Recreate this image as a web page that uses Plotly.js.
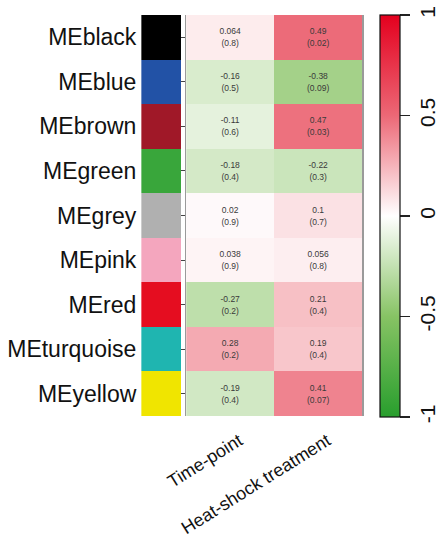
<!DOCTYPE html>
<html>
<head>
<meta charset="utf-8">
<script src="https://cdn.plot.ly/plotly-3.0.1.min.js"></script>
<style>html,body{margin:0;padding:0;background:#fff;}#chart{width:441px;height:543px;}</style>
</head>
<body>
<div id="chart"></div>
<script>
const modules = ["MEblack","MEblue","MEbrown","MEgreen","MEgrey","MEpink","MEred","MEturquoise","MEyellow"];
const moduleColors = ["#000000","#2252A6","#A01828","#39A63B","#B0B0B0","#F4A6BE","#E50D20","#1FB5B0","#F0E500"];
const traits = ["Time-point","Heat-shock treatment"];
const corTime = [0.064,-0.16,-0.11,-0.18,0.02,0.038,-0.27,0.28,-0.19];
const pTime   = ["0.8","0.5","0.6","0.4","0.9","0.9","0.2","0.2","0.4"];
const corHeat = [0.49,-0.38,0.47,-0.22,0.1,0.056,0.21,0.19,0.41];
const pHeat   = ["0.02","0.09","0.03","0.3","0.7","0.8","0.4","0.4","0.07"];
const cbTicks = [-1,-0.5,0,0.5,1];
const cbTickText = ["-1","-0.5","0","0.5","1"];

const z = modules.map((m,i)=>[corTime[i],corHeat[i]]);
const txt = modules.map((m,i)=>[corTime[i]+"<br>("+pTime[i]+")", corHeat[i]+"<br>("+pHeat[i]+")"]);

const W=441,H=543;
const px=v=>v/W, py=v=>(H-v)/H;

const swatch = {
  type:'bar', orientation:'h', y:modules, x:modules.map(()=>1),
  marker:{color:moduleColors, line:{width:0}},
  xaxis:'x2', yaxis:'y', hoverinfo:'skip', showlegend:false
};
const heat = {
  type:'heatmap', x:traits, y:modules, z:z, text:txt,
  texttemplate:'%{text}', textfont:{size:8.5,color:'#3a3a3a',family:'Liberation Sans, Arial, sans-serif'},
  zmin:-1, zmax:1,
  colorscale:[[0,'rgb(40,158,45)'],[0.25,'rgb(135,195,100)'],[0.5,'rgb(255,255,255)'],[0.75,'rgb(236,104,118)'],[1,'rgb(228,0,30)']],
  xaxis:'x', yaxis:'y2',
  colorbar:{thickness:20,thicknessmode:'pixels',len:402,lenmode:'pixels',
    x:px(382),xanchor:'left',y:py(15),yanchor:'top',xpad:0,ypad:0,
    outlinewidth:1.2,outlinecolor:'#111',
    ticks:'outside',ticklen:10,tickwidth:1.5,tickcolor:'#222',
    tickvals:cbTicks,ticktext:cbTickText,tickangle:-90,
    tickfont:{size:21,color:'#111',family:'Liberation Sans, Arial, sans-serif'}}
};

const layout = {
  width:W,height:H,margin:{l:0,r:0,t:0,b:0},
  paper_bgcolor:'#fff',plot_bgcolor:'#fff',
  font:{family:'Liberation Sans, Arial, sans-serif',color:'#111'},
  bargap:0,
  xaxis2:{domain:[px(142),px(182)],range:[0,1],showticklabels:false,showgrid:false,zeroline:false,fixedrange:true},
  xaxis:{domain:[px(187),px(364)],anchor:'y2',showgrid:false,zeroline:false,tickangle:-32,ticks:'',
    tickfont:{size:18,color:'#111'},ticklabelshift:9,ticklabelstandoff:10},
  yaxis:{domain:[py(416),py(15)],anchor:'x2',autorange:'reversed',showgrid:false,zeroline:false,ticks:'',
    tickfont:{size:23,color:'#111'},ticklabelstandoff:4},
  yaxis2:{domain:[py(416),py(15)],anchor:'x',matches:'y',showticklabels:false,showgrid:false,zeroline:false,
    showline:true,mirror:true,linecolor:'#9a9a9a',linewidth:1.5}
};
Plotly.newPlot('chart',[swatch,heat],layout,{displayModeBar:false,staticPlot:true});
</script>
</body>
</html>
